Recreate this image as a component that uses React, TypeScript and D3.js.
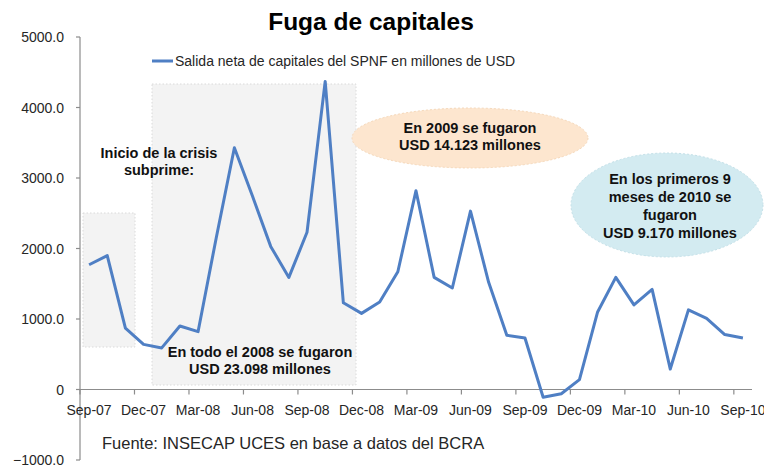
import React from "react";
import * as d3 from "d3";

const months: string[] = [
  "Sep-07","Oct-07","Nov-07","Dec-07","Jan-08","Feb-08","Mar-08","Apr-08","May-08","Jun-08","Jul-08","Aug-08",
  "Sep-08","Oct-08","Nov-08","Dec-08","Jan-09","Feb-09","Mar-09","Apr-09","May-09","Jun-09","Jul-09","Aug-09",
  "Sep-09","Oct-09","Nov-09","Dec-09","Jan-10","Feb-10","Mar-10","Apr-10","May-10","Jun-10","Jul-10","Aug-10","Sep-10",
];
const salidaNeta: number[] = [
  1770, 1900, 870, 640, 590, 900, 820, 2150, 3430, 2740, 2030, 1590,
  2230, 4370, 1230, 1080, 1240, 1670, 2820, 1590, 1440, 2530, 1520, 770,
  730, -110, -60, 140, 1100, 1590, 1200, 1420, 290, 1130, 1010, 780, 730,
];
const yTicks: number[] = [5000, 4000, 3000, 2000, 1000, 0, -1000];
const labelEvery = 3;

const title = "Fuga de capitales";
const legendLabel = "Salida neta de capitales del SPNF en millones de USD";
const source = "Fuente: INSECAP UCES en base a datos del BCRA";

const FONT = "'Liberation Sans', Arial, sans-serif";

export default function App() {
  const W = 764, H = 468;
  const x = d3.scaleBand<string>().domain(months).range([80, 752]).paddingInner(0).paddingOuter(0);
  const y = d3.scaleLinear().domain([-1000, 5000]).range([460, 37]);
  const cx = (m: string) => (x(m) as number) + x.bandwidth() / 2;
  const line = d3.line<number>().x((_, i) => cx(months[i])).y((v) => y(v));
  const fmt = (v: number) => (v === 0 ? "0" : d3.format(".1f")(v));
  const tickIdx = months.map((_, i) => i).filter((i) => i % labelEvery === 0);
  const axisColor = "#8c8c8c";
  const textColor = "#262626";

  return (
    <svg width={W} height={H} style={{ position: "absolute", left: 0, top: 0, fontFamily: FONT }}>
      <rect width={W} height={H} fill="#ffffff" />
      {/* shaded boxes */}
      <rect x={83} y={213} width={52} height={134} fill="#f3f3f3" stroke="#dadada" strokeDasharray="1.5 2" />
      <rect x={152} y={84} width={204} height={301} fill="#f3f3f3" stroke="#dadada" strokeDasharray="1.5 2" />

      {/* ellipses */}
      <ellipse cx={470} cy={138} rx={118} ry={30} fill="#fde6cf" stroke="#f5d8ba" strokeDasharray="2 2" />
      <ellipse cx={667} cy={205} rx={96} ry={52} fill="#d3ebf1" stroke="#c3e0e8" strokeDasharray="2 2" />

      {/* title */}
      <text x={371} y={30} textAnchor="middle" fontSize={24.5} fontWeight="bold" fill="#000">{title}</text>

      {/* legend */}
      <line x1={152} x2={173} y1={61} y2={61} stroke="#4f7fc4" strokeWidth={3} />
      <text x={175} y={66} fontSize={14} fill={textColor}>{legendLabel}</text>

      {/* y axis */}
      <line x1={80} x2={80} y1={y(5000)} y2={y(-1000)} stroke={axisColor} strokeWidth={1.2} />
      {yTicks.map((t) => (
        <g key={t}>
          <line x1={76} x2={80} y1={y(t)} y2={y(t)} stroke={axisColor} strokeWidth={1.2} />
          <text x={64} y={y(t) + 5} textAnchor="end" fontSize={14} fill={textColor}>{fmt(t)}</text>
        </g>
      ))}

      {/* x axis at zero */}
      <line x1={80} x2={752} y1={y(0)} y2={y(0)} stroke={axisColor} strokeWidth={1.2} />
      {tickIdx.map((i) => (
        <g key={i}>
          <line x1={x(months[i]) as number} x2={x(months[i]) as number} y1={y(0)} y2={y(0) + 5} stroke={axisColor} strokeWidth={1.2} />
          <text x={cx(months[i])} y={415} textAnchor="middle" fontSize={14} fill={textColor}>{months[i]}</text>
        </g>
      ))}

      {/* series */}
      <path d={line(salidaNeta) || ""} fill="none" stroke="#4f7fc4" strokeWidth={3} strokeLinejoin="round" />

      {/* annotations */}
      <g fontSize={14.5} fontWeight="bold" fill="#111" textAnchor="middle">
        <text x={159} y={158}>Inicio de la crisis</text>
        <text x={159} y={175}>subprime:</text>
        <text x={260} y={357}>En todo el 2008 se fugaron</text>
        <text x={260} y={374}>USD 23.098 millones</text>
        <text x={470} y={133}>En 2009 se fugaron</text>
        <text x={470} y={150}>USD 14.123 millones</text>
        <text x={670} y={184}>En los primeros 9</text>
        <text x={670} y={202}>meses de 2010 se</text>
        <text x={670} y={220}>fugaron</text>
        <text x={670} y={238}>USD 9.170 millones</text>
      </g>

      {/* source */}
      <text x={102} y={449} fontSize={16.5} fill={textColor}>{source}</text>
    </svg>
  );
}
